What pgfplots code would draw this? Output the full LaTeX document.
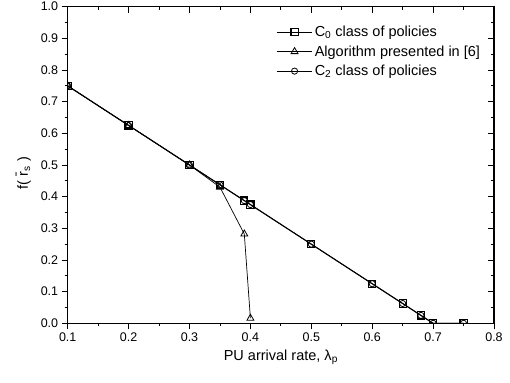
\documentclass[border=0pt]{standalone}
\usepackage{fontspec}
\setmainfont{Liberation Sans}
\usepackage{pgfplots}
\pgfplotsset{compat=1.18}
\begin{document}
\begin{tikzpicture}
\pgfplotsset{
  common/.style={
    at={(0,0)}, anchor=south west,
    scale only axis, width=426.3pt, height=316.6pt,
    xmin=0.1, xmax=0.8, ymin=0, ymax=1.0,
    xtick={0.1,0.2,0.3,0.4,0.5,0.6,0.7,0.8},
    ytick={0,0.1,0.2,0.3,0.4,0.5,0.6,0.7,0.8,0.9,1.0},
    minor x tick num=1, minor y tick num=1,
    major tick length=6pt, minor tick length=3pt,
    every tick/.style={black, line width=0.9pt},
    axis line style={line width=1.1pt},
  }
}
\begin{axis}[common,
  name=ax,
  tick pos=left, tick align=outside,
  /pgf/number format/assume math mode=true,
  xticklabel style={/pgf/number format/fixed, /pgf/number format/fixed zerofill, /pgf/number format/precision=1},
  yticklabel style={/pgf/number format/fixed, /pgf/number format/fixed zerofill, /pgf/number format/precision=1},
  ticklabel style={font=\fontsize{12.5}{14}\selectfont},
  label style={font=\fontsize{14.5}{17}\selectfont},
  xlabel={PU arrival rate, λ\textsubscript{p}},
  ylabel={f( \=r\textsubscript{s} )},
  xlabel style={yshift=-1pt},
  ylabel style={yshift=3pt, xshift=-8pt},
  clip marker paths=true,
  legend style={at={(0.482,0.952)}, anchor=north west, draw=none, fill=none,
    font=\fontsize{14.5}{17}\selectfont, row sep=3.5pt},
  legend cell align=left,
  legend image code/.code={\draw[mark repeat=2,mark phase=2] plot coordinates {(0cm,0cm)(0.62cm,0cm)(1.24cm,0cm)};},
]
\addplot[black, line width=1.1pt, mark=square, mark size=3.6pt, mark options={fill=white, line width=1.1pt}] coordinates {
(0.1,0.75)(0.2,0.625)(0.3,0.5)(0.35,0.4375)(0.39,0.3875)(0.4,0.375)(0.5,0.25)(0.6,0.125)(0.65,0.0625)(0.68,0.025)(0.7,0)(0.75,0)};
\addlegendentry{C\textsubscript{0} class of policies}
\addplot[black, line width=0.7pt, mark=triangle, mark size=4pt, mark options={fill=white, line width=0.8pt}] coordinates {
(0.1,0.75)(0.2,0.625)(0.3,0.5)(0.35,0.43)(0.39,0.282)(0.4,0.016)};
\addlegendentry{Algorithm presented in [6]}
\addplot[black, line width=0.7pt, mark=o, mark size=3.1pt, mark options={fill=white, line width=0.8pt}] coordinates {
(0.1,0.75)(0.2,0.625)(0.3,0.5)(0.35,0.4375)(0.39,0.3875)(0.4,0.375)(0.5,0.25)(0.6,0.125)(0.65,0.0625)(0.68,0.025)(0.7,0)(0.75,0)};
\addlegendentry{C\textsubscript{2} class of policies}
\end{axis}
\begin{axis}[common,
  tick pos=right, tick align=inside,
  xticklabels={}, yticklabels={},
]
\end{axis}
\pgfresetboundingbox
\path ([shift={(-67.7pt,-58.7pt)}]ax.south west) rectangle ([shift={(16pt,6.7pt)}]ax.north east);
\end{tikzpicture}
\end{document}
